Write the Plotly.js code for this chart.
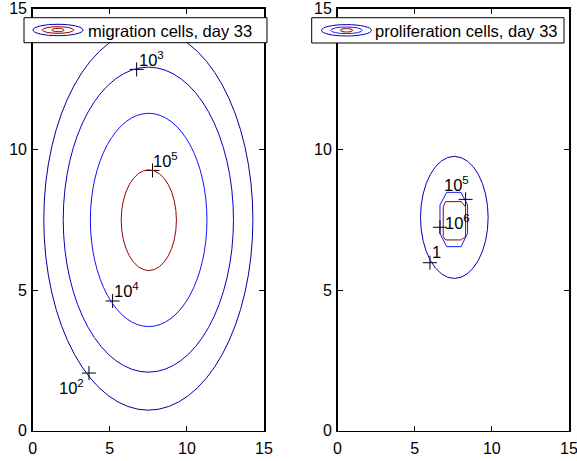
<!DOCTYPE html>
<html>
<head>
<meta charset="utf-8">
<script src="https://cdn.plot.ly/plotly-3.0.1.min.js"></script>
<style>html,body{margin:0;padding:0;background:#fff;}#chart{width:577px;height:461px;}</style>
</head>
<body>
<div id="chart"></div>
<script>
// ---------- data ----------
// Left panel: migration cells, day 33 (closed contour levels, centres, semi-axes)
const migLevels   = ['10<sup>2</sup>', '10<sup>3</sup>', '10<sup>4</sup>', '10<sup>5</sup>'];
const migCenterX  = [7.5, 7.5, 7.52, 7.53];
const migCenterY  = [7.5, 7.5, 7.49, 7.48];
const migRadiusX  = [6.78, 5.52, 3.78, 1.79];
const migRadiusY  = [6.77, 5.42, 3.79, 1.79];
// contour label anchor points (the "+" marks) for the left panel
const migLabelText = ['10<sup>3</sup>', '10<sup>5</sup>', '10<sup>4</sup>', '10<sup>2</sup>'];
const migLabelX    = [6.74, 7.77, 5.18, 3.65];
const migLabelY    = [12.84, 9.25, 4.61, 2.05];

// Right panel: proliferation cells, day 33
const proOuterLevel = '1';
const proOuterCX = 7.57, proOuterCY = 7.58, proOuterRX = 2.19, proOuterRY = 2.17;
const pro5X = [7.07, 8.0, 8.43, 8.43, 8.0, 7.07, 6.64, 6.64, 7.07];
const pro5Y = [8.47, 8.47, 8.02, 7.01, 6.54, 6.54, 7.01, 8.02, 8.47];
const pro6X = [7.0, 8.02, 8.3, 8.3, 8.02, 7.0, 6.85, 6.85, 7.0];
const pro6Y = [8.14, 8.14, 7.95, 6.9, 6.78, 6.78, 6.9, 7.95, 8.14];
const proLabelText = ['10<sup>5</sup>', '10<sup>6</sup>', '1'];
const proLabelX    = [8.3, 6.64, 5.99];
const proLabelY    = [8.22, 7.23, 5.97];

const tickVals = [0, 5, 10, 15];
const tickText = ['0', '5', '10', '15'];
const legendText = ['migration cells, day 33', 'proliferation cells, day 33'];

// ---------- styling ----------
const W = 577, H = 461;
const FONT = 'Liberation Sans, Arial, Helvetica, sans-serif';
const px = v => v / W;
const py = v => 1 - v / H;
const migColors = ['#00009c', '#0000c4', '#1010ff', '#960000'];
const blueDark = '#0000b4', blueBright = '#1a1aff', redDark = '#960000';

const shapes = [];
migLevels.forEach((lv, i) => {
  shapes.push({type: 'circle', xref: 'x', yref: 'y',
    x0: migCenterX[i] - migRadiusX[i], x1: migCenterX[i] + migRadiusX[i],
    y0: migCenterY[i] - migRadiusY[i], y1: migCenterY[i] + migRadiusY[i],
    line: {color: migColors[i], width: 1}, layer: 'above'});
});
shapes.push({type: 'circle', xref: 'x2', yref: 'y2',
  x0: proOuterCX - proOuterRX, x1: proOuterCX + proOuterRX,
  y0: proOuterCY - proOuterRY, y1: proOuterCY + proOuterRY,
  line: {color: blueDark, width: 1}, layer: 'above'});

// legend boxes
function legendBox(x0, x1, y0, y1, cx, cy, colors, textX, text) {
  shapes.push({type: 'rect', xref: 'paper', yref: 'paper', x0: px(x0), x1: px(x1), y0: py(y1), y1: py(y0),
    fillcolor: '#ffffff', line: {color: '#000', width: 1}, layer: 'above'});
  const sizes = [[25, 5.7], [15.7, 3.3], [6.2, 1.7]];
  sizes.forEach((s, k) => {
    shapes.push({type: 'circle', xref: 'paper', yref: 'paper',
      x0: px(cx - s[0]), x1: px(cx + s[0]), y0: py(cy + s[1]), y1: py(cy - s[1]),
      line: {color: colors[k], width: 1}, layer: 'above'});
  });
  return {xref: 'paper', yref: 'paper', x: px(textX), y: py(cy + 0.5), xanchor: 'left', yanchor: 'middle',
    text: text, showarrow: false, font: {family: FONT, size: 16.5, color: '#000'}};
}

const annotations = [];
annotations.push(legendBox(24, 267, 17.7, 42.7, 58, 30, [blueDark, redDark, redDark], 86, legendText[0]));
annotations.push(legendBox(311.7, 564, 17.7, 43, 346.5, 30.3, [blueDark, blueBright, redDark], 373, legendText[1]));

// contour labels (pixel offsets relative to "+" marks)
const migOff = [[0, 'left', 10], [-2, 'left', 10], [-1, 'left', 11], [-3, 'right', -14]];
migLabelText.forEach((t, i) => {
  annotations.push({xref: 'x', yref: 'y', x: migLabelX[i], y: migLabelY[i], text: t, showarrow: false,
    xanchor: migOff[i][1], yanchor: 'middle', xshift: migOff[i][0], yshift: migOff[i][2],
    font: {family: FONT, size: 16.5, color: '#000'}});
});
const proOff = [[5, 'right', 15], [3, 'left', 5], [0, 'left', 11]];
proLabelText.forEach((t, i) => {
  annotations.push({xref: 'x2', yref: 'y2', x: proLabelX[i], y: proLabelY[i], text: t, showarrow: false,
    xanchor: proOff[i][1], yanchor: 'middle', xshift: proOff[i][0], yshift: proOff[i][2],
    font: {family: FONT, size: 16.5, color: '#000'}});
});

const traces = [
  {x: pro5X, y: pro5Y, xaxis: 'x2', yaxis: 'y2', mode: 'lines', line: {color: blueBright, width: 1}, hoverinfo: 'skip'},
  {x: pro6X, y: pro6Y, xaxis: 'x2', yaxis: 'y2', mode: 'lines', line: {color: redDark, width: 1}, hoverinfo: 'skip'},
  {x: migLabelX, y: migLabelY, xaxis: 'x', yaxis: 'y', mode: 'markers',
    marker: {symbol: 'cross-thin', size: 10, line: {color: '#000', width: 1}}, hoverinfo: 'skip'},
  {x: proLabelX, y: proLabelY, xaxis: 'x2', yaxis: 'y2', mode: 'markers',
    marker: {symbol: 'cross-thin', size: 10, line: {color: '#000', width: 1}}, hoverinfo: 'skip'}
];

function axis(domain, anchor, isX) {
  return {domain: domain, anchor: anchor, range: [0, 15], tickvals: tickVals, ticktext: tickText,
    ticks: 'inside', ticklen: 5, tickwidth: 1, tickcolor: '#000',
    showline: true, linecolor: '#000', linewidth: 1.5, mirror: 'ticks',
    showgrid: false, zeroline: false, fixedrange: true,
    ticklabeloverflow: 'allow', ticklabelstandoff: isX ? 3 : 1,
    tickfont: {family: FONT, size: 16, color: '#000'}};
}
const yDom = [1 - 430.7 / H, 1 - 8.6 / H];
const layout = {
  width: W, height: H, margin: {l: 0, r: 0, t: 0, b: 0},
  paper_bgcolor: '#fff', plot_bgcolor: '#fff', showlegend: false,
  xaxis: axis([32.7 / W, 264 / W], 'y', true),
  yaxis: axis(yDom, 'x', false),
  xaxis2: axis([337.5 / W, 569 / W], 'y2', true),
  yaxis2: axis(yDom, 'x2', false),
  shapes: shapes, annotations: annotations
};
Plotly.newPlot('chart', traces, layout, {staticPlot: true, displayModeBar: false});
</script>
</body>
</html>
